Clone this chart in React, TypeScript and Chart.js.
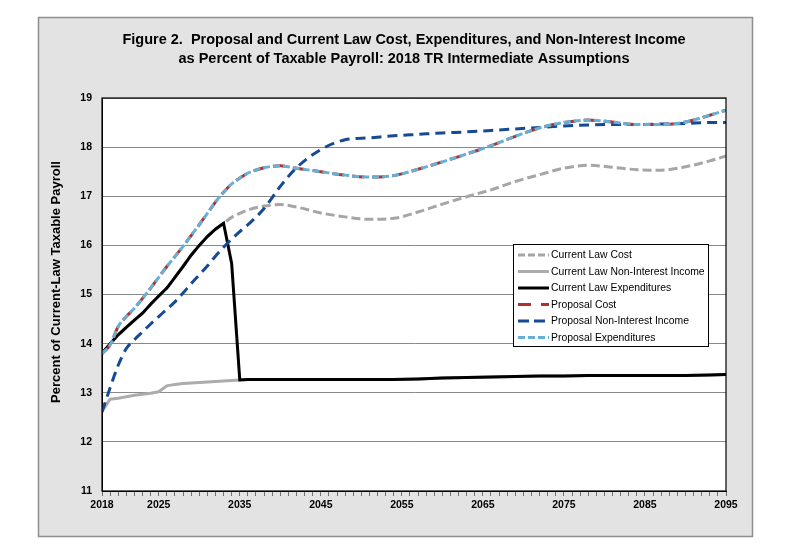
import React, { useEffect, useRef } from 'react';
import { Chart, registerables } from 'chart.js';

Chart.register(...registerables);

// ---------- data ----------
const years = [
  2018, 2019, 2020, 2021, 2022, 2023, 2024, 2025, 2026, 2027, 2028, 2029, 2030,
  2031, 2032, 2033, 2034, 2035, 2036, 2038, 2040, 2042, 2045, 2048, 2051, 2054,
  2057, 2060, 2063, 2066, 2069, 2072, 2075, 2078, 2081, 2084, 2087, 2090, 2093, 2095,
];

const currentLawCost = [
  13.8, 14.0, 14.18, 14.33, 14.48, 14.62, 14.8, 14.97, 15.13, 15.35, 15.57, 15.8, 16.0,
  16.18, 16.33, 16.45, 16.57, 16.65, 16.72, 16.8, 16.83, 16.78, 16.66, 16.58, 16.53, 16.55,
  16.68, 16.84, 16.99, 17.13, 17.3, 17.44, 17.57, 17.63, 17.59, 17.54, 17.53, 17.6, 17.72, 17.82,
];

const currentLawNonInterestIncome = [
  12.62, 12.87, 12.89, 12.92, 12.95, 12.97, 12.99, 13.02, 13.14, 13.17, 13.19, 13.2, 13.21,
  13.22, 13.23, 13.24, 13.25, 13.26, 13.27, 13.27, 13.27, 13.27, 13.27, 13.27, 13.27, 13.27,
  13.28, 13.3, 13.31, 13.32, 13.33, 13.34, 13.34, 13.35, 13.35, 13.35, 13.35, 13.35, 13.36, 13.37,
];

const currentLawExpenditures = [
  13.8, 14.0, 14.18, 14.33, 14.48, 14.62, 14.8, 14.97, 15.13, 15.35, 15.57, 15.8, 16.0,
  16.18, 16.33, 16.45, 15.63, 13.26, 13.27, 13.27, 13.27, 13.27, 13.27, 13.27, 13.27, 13.27,
  13.28, 13.3, 13.31, 13.32, 13.33, 13.34, 13.34, 13.35, 13.35, 13.35, 13.35, 13.35, 13.36, 13.37,
];

const proposalCost = [
  13.8, 13.97, 14.35, 14.55, 14.72, 14.92, 15.13, 15.35, 15.57, 15.77, 15.98, 16.2, 16.42,
  16.65, 16.88, 17.08, 17.25, 17.37, 17.47, 17.58, 17.62, 17.57, 17.5, 17.43, 17.39, 17.42,
  17.55, 17.7, 17.86, 18.03, 18.22, 18.39, 18.5, 18.55, 18.51, 18.46, 18.46, 18.51, 18.65, 18.75,
];

const proposalNonInterestIncome = [
  12.61, 13.1, 13.56, 13.9, 14.08, 14.24, 14.4, 14.55, 14.7, 14.85, 15.03, 15.22, 15.4,
  15.58, 15.78, 15.96, 16.13, 16.28, 16.42, 16.75, 17.2, 17.58, 17.95, 18.15, 18.19, 18.23,
  18.26, 18.29, 18.31, 18.34, 18.37, 18.4, 18.43, 18.45, 18.46, 18.46, 18.47, 18.48, 18.5, 18.5,
];

const proposalExpenditures = [
  13.8, 13.97, 14.35, 14.55, 14.72, 14.92, 15.13, 15.35, 15.57, 15.77, 15.98, 16.2, 16.42,
  16.65, 16.88, 17.08, 17.25, 17.37, 17.47, 17.58, 17.62, 17.57, 17.5, 17.43, 17.39, 17.42,
  17.55, 17.7, 17.86, 18.03, 18.22, 18.39, 18.5, 18.55, 18.51, 18.46, 18.46, 18.51, 18.65, 18.75,
];

const xTickLabels = [2018, 2025, 2035, 2045, 2055, 2065, 2075, 2085, 2095];
const yMin = 11;
const yMax = 19;

const titleLines = [
  'Figure 2.  Proposal and Current Law Cost, Expenditures, and Non-Interest Income',
  'as Percent of Taxable Payroll: 2018 TR Intermediate Assumptions',
];
const yAxisTitle = 'Percent of Current-Law Taxable Payroll';

const seriesNames = [
  'Current Law Cost',
  'Current Law Non-Interest Income',
  'Current Law Expenditures',
  'Proposal Cost',
  'Proposal Non-Interest Income',
  'Proposal Expenditures',
];

// ---------- helpers ----------
const pts = (vals: number[]) => years.map((x, i) => ({ x, y: vals[i] }));

const PANEL = { x: 38, y: 17, w: 714, h: 519 };
const LEGEND = { x: 513, y: 244, w: 195, h: 102 };

const decorPlugin = {
  id: 'decor',
  beforeDraw(chart: any) {
    const { ctx, chartArea } = chart;
    ctx.save();
    ctx.fillStyle = '#ffffff';
    ctx.fillRect(0, 0, chart.width, chart.height);
    ctx.fillStyle = '#e3e3e3';
    ctx.fillRect(PANEL.x, PANEL.y, PANEL.w, PANEL.h);
    ctx.strokeStyle = '#8e8e8e';
    ctx.lineWidth = 1.5;
    ctx.strokeRect(PANEL.x + 0.5, PANEL.y + 0.5, PANEL.w, PANEL.h);
    ctx.fillStyle = '#ffffff';
    ctx.fillRect(chartArea.left, chartArea.top, chartArea.right - chartArea.left, chartArea.bottom - chartArea.top);
    ctx.restore();
  },
  afterDraw(chart: any) {
    const { ctx, chartArea } = chart;
    ctx.save();
    // plot border
    ctx.strokeStyle = '#000000';
    ctx.lineWidth = 1.2;
    ctx.setLineDash([]);
    ctx.strokeRect(chartArea.left, chartArea.top, chartArea.right - chartArea.left, chartArea.bottom - chartArea.top);

    // title
    ctx.fillStyle = '#000000';
    ctx.textAlign = 'center';
    ctx.textBaseline = 'middle';
    ctx.font = 'bold 14.5px "Liberation Sans Narrow", "Liberation Sans", Arial, sans-serif';
    ctx.fillText(titleLines[0], 404, 40);
    ctx.fillText(titleLines[1], 404, 59);

    // y axis title
    ctx.save();
    ctx.translate(56, 282);
    ctx.rotate(-Math.PI / 2);
    ctx.font = 'bold 13px "Liberation Sans", Arial, sans-serif';
    ctx.fillText(yAxisTitle, 0, 0);
    ctx.restore();

    // legend
    ctx.fillStyle = '#ffffff';
    ctx.fillRect(LEGEND.x, LEGEND.y, LEGEND.w, LEGEND.h);
    ctx.strokeStyle = '#000000';
    ctx.lineWidth = 1;
    ctx.strokeRect(LEGEND.x + 0.5, LEGEND.y + 0.5, LEGEND.w, LEGEND.h);
    ctx.font = '10.4px "Liberation Sans", Arial, sans-serif';
    ctx.textAlign = 'left';
    const dsets = chart.data.datasets;
    dsets.forEach((ds: any, i: number) => {
      const yy = LEGEND.y + 11 + i * 16.5;
      ctx.beginPath();
      ctx.strokeStyle = ds.borderColor;
      ctx.lineWidth = 3;
      ctx.setLineDash(ds.legendDash || []);
      ctx.moveTo(LEGEND.x + 5, yy);
      ctx.lineTo(LEGEND.x + 36, yy);
      ctx.stroke();
      ctx.setLineDash([]);
      ctx.fillStyle = '#000000';
      ctx.fillText(ds.label, LEGEND.x + 38, yy + 0.5);
    });
    ctx.restore();
  },
};

export default function App() {
  const canvasRef = useRef<HTMLCanvasElement | null>(null);

  useEffect(() => {
    document.body.style.margin = '0';
    const canvas = canvasRef.current;
    if (!canvas) return;
    const tickFont = { family: '"Liberation Sans Narrow", "Liberation Sans", Arial, sans-serif', size: 10.5, weight: 'bold' as const };

    const chart = new Chart(canvas, {
      type: 'line',
      data: {
        datasets: [
          {
            label: seriesNames[0],
            data: pts(currentLawCost),
            borderColor: '#a6a6a6',
            borderWidth: 3,
            borderDash: [9, 4],
            legendDash: [7, 3],
            cubicInterpolationMode: 'monotone',
            order: 5,
          } as any,
          {
            label: seriesNames[1],
            data: pts(currentLawNonInterestIncome),
            borderColor: '#acacac',
            borderWidth: 3,
            tension: 0,
            order: 6,
          } as any,
          {
            label: seriesNames[2],
            data: pts(currentLawExpenditures),
            borderColor: '#000000',
            borderWidth: 3,
            tension: 0,
            order: 4,
          } as any,
          {
            label: seriesNames[3],
            data: pts(proposalCost),
            borderColor: '#b3312c',
            borderWidth: 3,
            borderDash: [12, 8],
            legendDash: [13, 10],
            cubicInterpolationMode: 'monotone',
            order: 2,
          } as any,
          {
            label: seriesNames[4],
            data: pts(proposalNonInterestIncome),
            borderColor: '#164a94',
            borderWidth: 3,
            borderDash: [10, 6],
            legendDash: [11, 5],
            cubicInterpolationMode: 'monotone',
            order: 3,
          } as any,
          {
            label: seriesNames[5],
            data: pts(proposalExpenditures),
            borderColor: '#68afd6',
            borderWidth: 3,
            borderDash: [7, 3],
            legendDash: [7, 3],
            cubicInterpolationMode: 'monotone',
            order: 1,
          } as any,
        ],
      },
      options: {
        responsive: false,
        animation: false,
        events: [],
        layout: { padding: { left: 0, top: 98, right: 70, bottom: 0 } },
        elements: { point: { radius: 0 } },
        plugins: {
          legend: { display: false },
          title: { display: false },
          tooltip: { enabled: false },
        },
        scales: {
          x: {
            type: 'linear',
            min: 2018,
            max: 2095,
            afterFit: (s: any) => { s.height = 55; },
            ticks: {
              stepSize: 1,
              autoSkip: false,
              maxRotation: 0,
              minRotation: 0,
              padding: 3,
              color: '#000000',
              font: tickFont,
              callback: (v: any) => (xTickLabels.includes(Number(v)) ? String(v) : ''),
            },
            grid: { drawOnChartArea: false, drawTicks: true, tickLength: 5, color: '#6e6e6e', lineWidth: 1 },
            border: { display: true, color: '#000000', width: 1 },
          },
          y: {
            type: 'linear',
            min: yMin,
            max: yMax,
            afterFit: (s: any) => { s.width = 102; },
            ticks: {
              stepSize: 1,
              padding: 10,
              color: '#000000',
              font: tickFont,
            },
            grid: { drawTicks: false, color: '#898989', lineWidth: 1 },
            border: { display: true, color: '#000000', width: 1 },
          },
        },
      } as any,
      plugins: [decorPlugin],
    });
    return () => chart.destroy();
  }, []);

  return (
    <div style={{ width: 796, height: 546 }}>
      <canvas ref={canvasRef} width={796} height={546} style={{ display: 'block' }} />
    </div>
  );
}
